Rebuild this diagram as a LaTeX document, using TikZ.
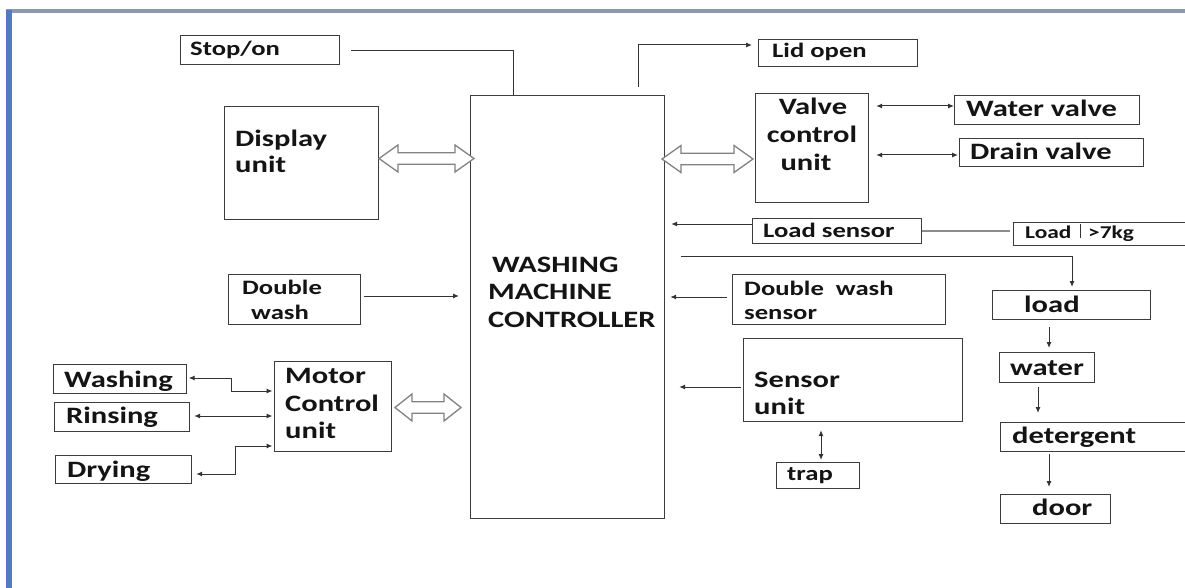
\documentclass[tikz,border=0pt]{standalone}
\usepackage{fontspec}
\usetikzlibrary{arrows.meta,calc}
\newfontfamily\cf{Carlito}[FakeStretch=1.3]
\definecolor{frameblue}{RGB}{84,122,192}
\definecolor{framegray}{RGB}{140,152,172}
\definecolor{boxline}{RGB}{60,60,60}
\definecolor{hollowline}{RGB}{130,130,130}
\definecolor{txt}{RGB}{20,20,20}
\tikzset{
 box/.style={draw=boxline, line width=1.2pt, inner sep=0pt, anchor=north west},
 lt/.style={anchor=base west, inner sep=0pt, text=txt, font=\cf\bfseries\fontsize{23.5}{28}\selectfont},
 mt/.style={lt, font=\cf\bfseries\fontsize{20.5}{24}\selectfont},
 st/.style={lt, font=\cf\bfseries\fontsize{18}{22}\selectfont},
 conn/.style={draw=black!80, line width=1pt},
 arr/.style={conn, -{Latex[length=6pt,width=5pt]}},
 darr/.style={conn, {Latex[length=6pt,width=5pt]}-{Latex[length=6pt,width=5pt]}},
 gline/.style={draw=black!45, line width=2.5pt},
 hollow/.style={draw=hollowline, line width=1.3pt, fill=white, line join=miter},
}
\newcommand{\hollowdbl}[4]{%
 \draw[hollow] (#1,#3) -- ({#1+#4},{#3-13.5}) -- ({#1+#4},{#3-5.7}) -- ({#2-#4},{#3-5.7}) -- ({#2-#4},{#3-13.5}) -- (#2,#3) -- ({#2-#4},{#3+13.5}) -- ({#2-#4},{#3+5.7}) -- ({#1+#4},{#3+5.7}) -- ({#1+#4},{#3+13.5}) -- cycle;}
\begin{document}
\begin{tikzpicture}[x=1pt,y=-1pt]
\useasboundingbox (0,0) rectangle (1185,588);
\fill[white] (0,0) rectangle (1185,588);
% frame
\fill[framegray] (6,9.5) rectangle (1185,13);
\fill[frameblue] (6,10) rectangle (12,588);

% boxes
\node[box, minimum width=159, minimum height=29] (stop) at (180,35) {};
\node[box, minimum width=154, minimum height=113] (disp) at (224,106) {};
\node[box, minimum width=132, minimum height=50] (dw) at (228,274) {};
\node[box, minimum width=194, minimum height=423] (ctrl) at (470,95) {};
\node[box, minimum width=159, minimum height=27] (lid) at (758,39) {};
\node[box, minimum width=113, minimum height=109] (valve) at (755,93) {};
\node[box, minimum width=185, minimum height=29] (wv) at (954,95) {};
\node[box, minimum width=184, minimum height=28] (dv) at (959,138) {};
\node[box, minimum width=169, minimum height=25] (lsens) at (752,218) {};
\node[box, minimum width=190, minimum height=23] (lkg) at (1013,222) {};
\node[box, minimum width=213, minimum height=50] (dws) at (732,274) {};
\node[box, minimum width=158, minimum height=29] (lo) at (992,290) {};
\node[box, minimum width=95, minimum height=30] (wat) at (999,352) {};
\node[box, minimum width=200, minimum height=29] (det) at (1000,422) {};
\node[box, minimum width=110, minimum height=29] (door) at (1000,494) {};
\node[box, minimum width=219, minimum height=83] (sens) at (743,338) {};
\node[box, minimum width=83, minimum height=26] (trap) at (776,462) {};
\node[box, minimum width=117, minimum height=90] (mot) at (274,361) {};
\node[box, minimum width=133, minimum height=29] (wsh) at (53,364) {};
\node[box, minimum width=135, minimum height=29] (rin) at (54,402) {};
\node[box, minimum width=136, minimum height=28] (dry) at (55,455) {};

% texts
\node[mt] (t-stop) at (190,56) {Stop/on};
\node[lt] (t-disp1) at (235,147) {Display};
\node[lt] (t-disp2) at (235,173) {unit};
\node[mt] (t-dw1) at (242,294) {Double};
\node[mt] (t-dw2) at (251,319) {wash};
\node[lt] (t-c1) at (492,272) {WASHING};
\node[lt] (t-c2) at (488,299) {MACHINE};
\node[lt] (t-c3) at (488,327) {CONTROLLER};
\node[mt] (t-lid) at (772,58) {Lid open};
\node[lt, anchor=base] (t-v1) at (813,115) {Valve};
\node[lt, anchor=base] (t-v2) at (812,143) {control};
\node[lt, anchor=base] (t-v3) at (806,171) {unit};
\node[lt] (t-wv) at (966,117) {Water valve};
\node[lt] (t-dv) at (970,160) {Drain valve};
\node[mt] (t-ls) at (763,237) {Load sensor};
\node[st] (t-lk1) at (1025,238) {Load};
\node[st] (t-lk2) at (1088,238) {>7kg};
\draw[black!80, line width=0.8pt] (1080,224) -- (1080,238);
\node[mt] (t-dws1) at (744,295) {Double\ \ wash};
\node[mt] (t-dws2) at (744,319) {sensor};
\node[lt] (t-lo) at (1024,312) {load};
\node[lt] (t-s1) at (754,387) {Sensor};
\node[lt] (t-s2) at (754,414) {unit};
\node[mt] (t-trap) at (787,480) {trap};
\node[lt] (t-wat) at (1010,375) {water};
\node[lt] (t-det) at (1012,443) {detergent};
\node[lt] (t-door) at (1032,515) {door};
\node[lt] (t-wsh) at (64,387) {Washing};
\node[lt] (t-rin) at (66,423) {Rinsing};
\node[lt] (t-dry) at (67,477) {Drying};
\node[lt] (t-m1) at (285,383) {Motor};
\node[lt] (t-m2) at (285,411) {Control};
\node[lt] (t-m3) at (285,438) {unit};

% connectors
\draw[conn] ($(stop.east)+(11,0)$) -| (513,0 |- ctrl.north);
\draw[arr] ($(ctrl.north west)+(168,-8)$) |- ($(lid.west |- 0,45)+(-6,0)$);
\hollowdbl{379}{474}{158.5}{19}
\hollowdbl{662}{753}{159}{19}
\hollowdbl{395}{461}{407.5}{17}
\draw[darr] ($(valve.east |- 0,106)+(7,0)$) -- (wv.west |- 0,106);
\draw[darr] ($(valve.east |- 0,155)+(7,0)$) -- ($(dv.west |- 0,155)+(-1,0)$);
\draw[arr] (lsens.west |- 0,224) -- ($(ctrl.east |- 0,224)+(6,0)$);
\draw[gline] (lsens.east) -- ($(lkg.west |- lsens.east)+(-3,0)$);
\draw[arr] ($(ctrl.east |- 0,256)+(16,0)$) -| ($(lo.north -| 1072,0)+(0,-3)$);
\draw[arr] ($(dw.east |- 0,296)+(3,0)$) -- ($(ctrl.west |- 0,296)+(-11,0)$);
\draw[arr] ($(dws.west |- 0,297)+(-5,0)$) -- ($(ctrl.east |- 0,297)+(5,0)$);
\draw[arr] ($(sens.west |- 0,387)+(-2,0)$) -- ($(ctrl.east |- 0,387)+(14,0)$);
\draw[darr] ($(sens.south -| 821,0)+(0,8)$) -- ($(trap.north -| 821,0)+(0,-2)$);
\draw[arr] ($(lo.south -| 1049,0)+(0,7)$) -- ($(wat.north -| 1049,0)+(0,-4)$);
\draw[arr] ($(wat.south -| 1038,0)+(0,4)$) -- ($(det.north -| 1038,0)+(0,-9)$);
\draw[arr] ($(det.south -| 1049,0)+(0,2)$) -- ($(door.north -| 1049,0)+(0,-7)$);
\draw[darr] ($(wsh.east |- 0,378)+(1.5,0)$) -| (231,391) -- ($(mot.west |- 0,391)+(-1.5,0)$);
\draw[darr] ($(rin.east |- 0,416)+(4,0)$) -- ($(mot.west |- 0,416)+(-1.5,0)$);
\draw[darr] ($(dry.east |- 0,474)+(4,0)$) -| (235,446) -- ($(mot.west |- 0,446)+(-1.5,0)$);
\end{tikzpicture}
\end{document}
